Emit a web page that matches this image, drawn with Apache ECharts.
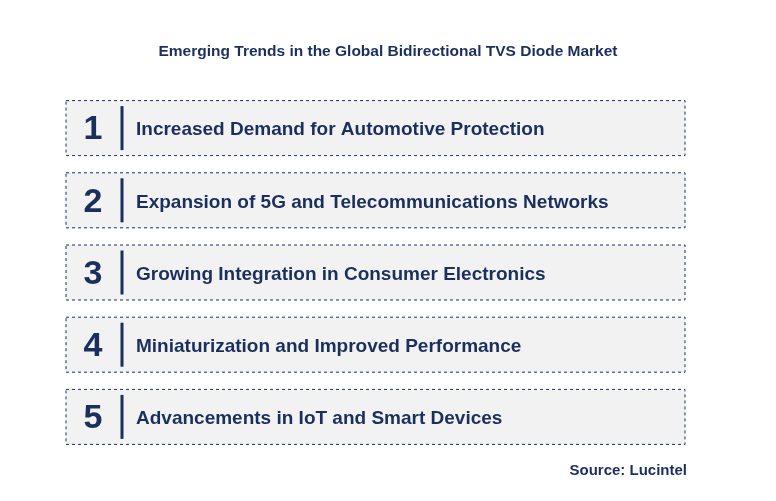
<!DOCTYPE html>
<html><head><meta charset="utf-8">
<script src="https://cdn.jsdelivr.net/npm/echarts@6/dist/echarts.min.js"></script>
<style>html,body{margin:0;padding:0;background:#fff}#c{width:776px;height:501px}</style>
</head><body><div id="c"></div>
<script>
const titleText = 'Emerging Trends in the Global Bidirectional TVS Diode Market';
const numbers = ['1','2','3','4','5'];
const trends = [
  'Increased Demand for Automotive Protection',
  'Expansion of 5G and Telecommunications Networks',
  'Growing Integration in Consumer Electronics',
  'Miniaturization and Improved Performance',
  'Advancements in IoT and Smart Devices'
];
const sourceText = 'Source: Lucintel';
const navy = '#1b2f5e';
const chart = echarts.init(document.getElementById('c'));
chart.setOption({
  backgroundColor: '#fff',
  title: [
    {text: titleText, left: 'center', top: 39, textStyle: {fontFamily: 'Liberation Sans, Arial', fontSize: 15.5, fontWeight: 'bold', color: navy}},
    {text: sourceText, right: 84, top: 458, textStyle: {fontFamily: 'Liberation Sans, Arial', fontSize: 15, fontWeight: 'bold', color: navy}}
  ],
  grid: {left: 66, right: 91, top: 92, bottom: 48},
  xAxis: {type: 'value', min: 0, max: 1, show: false},
  yAxis: {type: 'category', data: numbers, inverse: true, show: false},
  series: [{
    type: 'custom',
    data: numbers.map((n, i) => [i]),
    renderItem: function (params, api) {
      const i = api.value(0);
      const c = api.coord([0, i]);
      const cs = params.coordSys;
      const h = 55, y = c[1] - h / 2;
      return {type: 'group', children: [
        {type: 'rect', shape: {x: cs.x, y: y, width: cs.width, height: h},
         style: {fill: '#f2f2f2', stroke: navy, lineWidth: 1, lineDash: [3, 3]}},
        {type: 'text', style: {text: numbers[i], x: cs.x + 27, y: c[1] + 2, align: 'center', verticalAlign: 'middle',
          fontFamily: 'Liberation Sans, Arial', fontSize: 34, fontWeight: 'bold', fill: navy}},
        {type: 'line', shape: {x1: cs.x + 56, y1: c[1] - 22, x2: cs.x + 56, y2: c[1] + 22},
         style: {stroke: navy, lineWidth: 3}},
        {type: 'text', style: {text: trends[i], x: cs.x + 70, y: c[1] + 2, align: 'left', verticalAlign: 'middle',
          fontFamily: 'Liberation Sans, Arial', fontSize: 19, fontWeight: 'bold', fill: navy}}
      ]};
    }
  }]
});
</script></body></html>
